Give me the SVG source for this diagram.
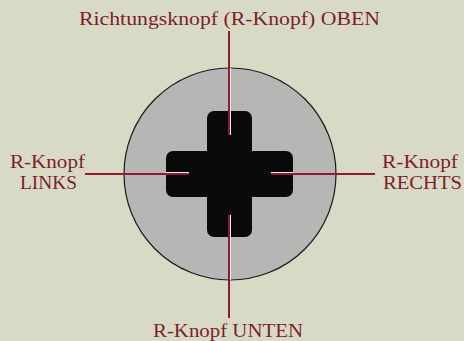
<svg xmlns="http://www.w3.org/2000/svg" width="464" height="341" viewBox="0 0 464 341">
<style>
.lbl{font-family:"Liberation Serif","DejaVu Serif",serif;font-size:18px;fill:#7a1f2a}
.ln{stroke:#8f1c32;stroke-width:2;fill:none}
.hl{stroke:#f4eef0;stroke-width:1;fill:none}
</style>
<rect width="464" height="341" fill="#d9dac6"/>
<g id="pad">
<circle cx="230" cy="174" r="106" fill="#b6b6b4" stroke="#1a1a1a" stroke-width="1.2"/>
<rect x="207" y="111" width="45" height="126" rx="7" fill="#0a0a0a"/>
<rect x="166" y="151" width="127" height="46" rx="7" fill="#0a0a0a"/>
</g>
<g id="connectors">
<line class="ln" x1="229" y1="31" x2="229" y2="135"/>
<line class="hl" x1="230.5" y1="68" x2="230.5" y2="135"/>
<line class="ln" x1="229" y1="215" x2="229" y2="318"/>
<line class="hl" x1="230.5" y1="215" x2="230.5" y2="280"/>
<line class="ln" x1="85" y1="174" x2="189" y2="174"/>
<line class="hl" x1="166" y1="172.5" x2="189" y2="172.5"/>
<line class="ln" x1="271" y1="174" x2="375" y2="174"/>
<line class="hl" x1="271" y1="172.5" x2="293" y2="172.5"/>
</g>
<g id="oben"><text class="lbl" x="79" y="25" textLength="301" lengthAdjust="spacingAndGlyphs">Richtungsknopf (R-Knopf) OBEN</text></g>
<g id="links">
<text class="lbl" x="10" y="168" textLength="75" lengthAdjust="spacingAndGlyphs">R-Knopf</text>
<text class="lbl" x="20" y="189" textLength="57" lengthAdjust="spacingAndGlyphs">LINKS</text>
</g>
<g id="rechts">
<text class="lbl" x="382" y="168" textLength="76" lengthAdjust="spacingAndGlyphs">R-Knopf</text>
<text class="lbl" x="383" y="189" textLength="79" lengthAdjust="spacingAndGlyphs">RECHTS</text>
</g>
<g id="unten"><text class="lbl" x="153" y="337" textLength="150" lengthAdjust="spacingAndGlyphs">R-Knopf UNTEN</text></g>
</svg>
